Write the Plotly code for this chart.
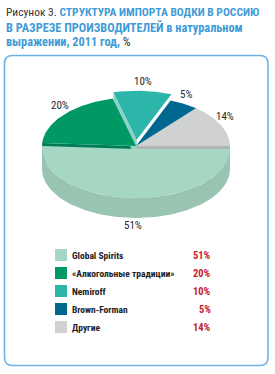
import numpy as np
import plotly.graph_objects as go

# ---- data ----
categories = ["Global Spirits", "«Алкогольные традиции»", "Nemiroff", "Brown-Forman", "Другие"]
values = [51, 20, 10, 5, 14]
value_labels = ["51%", "20%", "10%", "5%", "14%"]
title_prefix = "Рисунок 3. "
title_bold_1 = "СТРУКТУРА ИМПОРТА ВОДКИ В РОССИЮ"
title_bold_2 = "В РАЗРЕЗЕ ПРОИЗВОДИТЕЛЕЙ"
title_rest_2 = " в натуральном"
title_rest_3 = "выражении, 2011 год,"
title_unit = " %"

# ---- style ----
top_colors = ["#a6d7c2", "#009966", "#2bb6a9", "#006890", "#d0d2d2"]
side_colors = ["#99c4b1", "#007d55", "#8fd3c8", "#00506f", "#b3b5b5"]
explode = [3, 0, 12, 0, 0]   # px, pull-out of each slice
FONT = "Roboto Condensed, PT Sans Narrow, Roboto, sans-serif"
BLUE = "#3f9bd6"
DARK = "#333333"
RED = "#c8202a"

W, H = 275, 374
cx, cy, rx, ry, depth = 136, 146, 94, 49, 20

fig = go.Figure()

# slice angles (counter-clockwise from the right, starting with "Другие" at 0°)
order = [4, 3, 2, 1, 0]
total = float(sum(values))
angles = {}
a = 0.0
for i in order:
    span = values[i] / total * 360.0
    angles[i] = (a, a + span)
    a += span


def offset(i):
    t0, t1 = angles[i]
    m = np.radians((t0 + t1) / 2)
    e = explode[i]
    if i == 0:
        return 0.0, e
    return e * np.cos(m), -e * (ry / rx) * np.sin(m)


def pt(t, ox=0.0, oy=0.0, dz=0.0):
    t = np.radians(t)
    return cx + ox + rx * np.cos(t), cy + oy - ry * np.sin(t) + dz


def poly(xs, ys, color):
    fig.add_trace(go.Scatter(x=list(xs) + [xs[0]], y=list(ys) + [ys[0]], mode="lines",
                             fill="toself", fillcolor=color, line=dict(width=0, color=color),
                             hoverinfo="skip", showlegend=False))


def cut_face(i, t, color):
    ox, oy = offset(i)
    x1, y1 = pt(t, ox, oy)
    c = (cx + ox, cy + oy)
    poly([c[0], x1, x1, c[0]], [c[1], y1, y1 + depth, c[1] + depth], color)


def top_face(i):
    ox, oy = offset(i)
    t0, t1 = angles[i]
    ts = np.linspace(t0, t1, 80)
    xs, ys = pt(ts, ox, oy)
    poly([cx + ox] + list(xs), [cy + oy] + list(ys), top_colors[i])


# back cut faces revealed by the pulled-out front slice
cut_face(4, angles[4][0], side_colors[4])
cut_face(1, angles[1][1], side_colors[1])
# cut face of the exploded Nemiroff slice
cut_face(2, angles[2][1], side_colors[2])

# side of the front slice
ox, oy = offset(0)
ts = np.linspace(180, 360, 120)
xt, yt = pt(ts, ox, oy)
xb, yb = pt(ts[::-1], ox, oy, depth)
poly(list(xt) + list(xb), list(yt) + list(yb), side_colors[0])

# top faces
for i in [0, 4, 3, 1, 2]:
    top_face(i)

# slice labels
for i in range(len(values)):
    t0, t1 = angles[i]
    m = np.radians((t0 + t1) / 2)
    ox, oy = offset(i)
    lx = cx + ox + rx * np.cos(m) * 1.05
    if np.sin(m) >= 0:
        ly = cy + oy - (ry * np.sin(m) + 9)
    else:
        ly = cy + oy + ry * (-np.sin(m)) + depth + 8
    fig.add_annotation(x=lx, y=ly, text=value_labels[i], showarrow=False,
                       font=dict(family=FONT, size=11, color="#2a2a2a"),
                       xanchor="center", yanchor="middle")

# legend
for k, i in enumerate(range(len(categories))):
    y = 255 + 18 * k
    fig.add_trace(go.Scatter(x=[61], y=[y], mode="markers",
                             marker=dict(symbol="square", size=12, color=top_colors[i],
                                         line=dict(width=0)),
                             hoverinfo="skip", showlegend=False))
    fig.add_annotation(x=70, y=y, text="<b>" + categories[i] + "</b>", showarrow=False,
                       font=dict(family=FONT, size=9.5, color="#222222"),
                       xanchor="left", yanchor="middle")
    fig.add_annotation(x=213, y=y, text="<b>" + value_labels[i] + "</b>", showarrow=False,
                       font=dict(family=FONT, size=10.5, color=RED),
                       xanchor="right", yanchor="middle")

# title
title_lines = [
    (f'<span style="color:{DARK};font-weight:normal">{title_prefix}</span><b>{title_bold_1}</b>', 11.5),
    (f'<b>{title_bold_2}{title_rest_2}</b>', 12.3),
    (f'<b>{title_rest_3}</b><span style="color:{DARK}">{title_unit}</span>', 12.3),
]
for k, (line, sz) in enumerate(title_lines):
    fig.add_annotation(x=4, y=12 + 15 * k, text=line, showarrow=False,
                       font=dict(family=FONT, size=sz, color=BLUE),
                       xanchor="left", yanchor="middle")

# rounded frame
x0, y0, x1, y1, r = 4.5, 55.5, 268, 365.5, 8
path = (f"M{x0 + r},{y0} L{x1 - r},{y0} Q{x1},{y0} {x1},{y0 + r} L{x1},{y1 - r} "
        f"Q{x1},{y1} {x1 - r},{y1} L{x0 + r},{y1} Q{x0},{y1} {x0},{y1 - r} "
        f"L{x0},{y0 + r} Q{x0},{y0} {x0 + r},{y0} Z")
fig.add_shape(type="path", path=path, line=dict(color="#6fb3e6", width=1.6), layer="below")

fig.update_layout(width=W, height=H, margin=dict(l=0, r=0, t=0, b=0),
                  paper_bgcolor="white", plot_bgcolor="white",
                  xaxis=dict(range=[0, W], visible=False, fixedrange=True),
                  yaxis=dict(range=[H, 0], visible=False, fixedrange=True))

fig.write_html("out.html", config={"displayModeBar": False})
